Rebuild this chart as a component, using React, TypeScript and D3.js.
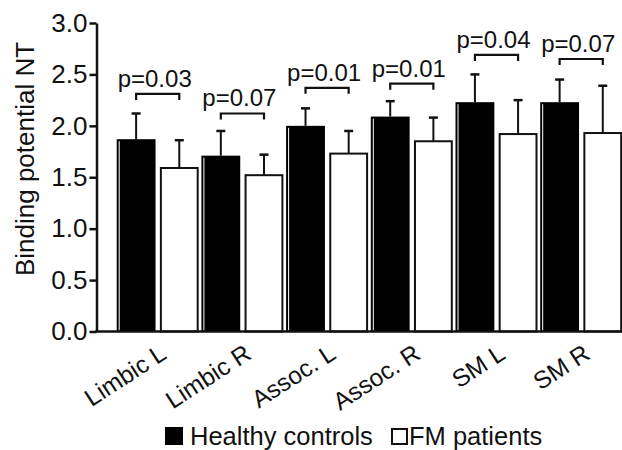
import { useEffect, useRef } from "react";
import * as d3 from "d3";

const regions = ["Limbic L", "Limbic R", "Assoc. L", "Assoc. R", "SM L", "SM R"];
const groups = ["hc", "fm"];
const hcMeans = [1.87, 1.71, 2.0, 2.09, 2.23, 2.23];
const hcSD = [0.25, 0.24, 0.17, 0.15, 0.27, 0.22];
const fmMeans = [1.59, 1.52, 1.73, 1.85, 1.92, 1.93];
const fmSD = [0.27, 0.2, 0.22, 0.23, 0.33, 0.46];
const pLabels = ["p=0.03", "p=0.07", "p=0.01", "p=0.01", "p=0.04", "p=0.07"];
const bracketLevels = [2.31, 2.12, 2.37, 2.41, 2.69, 2.65];
const yTicks = [0, 0.5, 1.0, 1.5, 2.0, 2.5, 3.0];
const legendLabels = ["Healthy controls", "FM patients"];

const font = "'Liberation Sans', Arial, Helvetica, sans-serif";

const App = () => {
    const ref = useRef<SVGSVGElement>(null);

    useEffect(() => {
        const svg = d3.select(ref.current);
        svg.selectAll("*").remove();

        const axisLeftX = 96.5;
        const y = d3.scaleLinear().domain([0, 3]).range([331.5, 23]);
        const x0 = d3.scaleBand().domain(regions).range([114.7, 622.9]);
        const x1 = d3.scaleBand().domain(groups).range([2, x0.bandwidth() - 0.7]).paddingInner(0.1);
        const bw = x1.bandwidth();

        // y axis
        const yAxis = svg.append("g")
            .attr("transform", `translate(${axisLeftX},0)`)
            .call(d3.axisLeft(y).tickValues(yTicks).tickSize(7).tickSizeOuter(0).tickPadding(2).tickFormat(d3.format(".1f")));
        yAxis.select(".domain").attr("stroke", "#111").attr("stroke-width", 2.5);
        yAxis.selectAll(".tick line").attr("stroke", "#111").attr("stroke-width", 2.5);
        yAxis.selectAll(".tick text")
            .attr("font-family", font).attr("font-size", 26).attr("fill", "#111");

        svg.append("text")
            .attr("transform", "translate(34,159) rotate(-90)")
            .attr("text-anchor", "middle")
            .attr("font-family", font).attr("font-size", 26).attr("fill", "#111")
            .text("Binding potential NT");

        // bars
        regions.forEach((r, i) => {
            const bx = (x0(r) ?? 0) + (x1("hc") ?? 0);
            const wx = (x0(r) ?? 0) + (x1("fm") ?? 0);
            svg.append("rect")
                .attr("x", bx).attr("y", y(hcMeans[i]))
                .attr("width", bw).attr("height", y(0) - y(hcMeans[i]))
                .attr("fill", "#000");
            svg.append("line")
                .attr("x1", bx + 2.5).attr("x2", bx + 2.5)
                .attr("y1", y(hcMeans[i]) + 2).attr("y2", y(0) - 1)
                .attr("stroke", "#fff").attr("stroke-width", 1);
            svg.append("rect")
                .attr("x", wx + 1).attr("y", y(fmMeans[i]))
                .attr("width", bw - 2).attr("height", y(0) - y(fmMeans[i]))
                .attr("fill", "#fff").attr("stroke", "#111").attr("stroke-width", 2);

            // error bars (upper only)
            const bars = [
                { cx: bx + bw / 2, m: hcMeans[i], s: hcSD[i] },
                { cx: wx + bw / 2, m: fmMeans[i], s: fmSD[i] },
            ];
            bars.forEach(b => {
                svg.append("line")
                    .attr("x1", b.cx).attr("x2", b.cx)
                    .attr("y1", y(b.m)).attr("y2", y(b.m + b.s))
                    .attr("stroke", "#111").attr("stroke-width", 2);
                svg.append("line")
                    .attr("x1", b.cx - 4.5).attr("x2", b.cx + 4.5)
                    .attr("y1", y(b.m + b.s)).attr("y2", y(b.m + b.s))
                    .attr("stroke", "#111").attr("stroke-width", 2.5);
            });

            // significance bracket
            const yb = y(bracketLevels[i]);
            svg.append("path")
                .attr("d", `M${bars[0].cx},${yb + 6}V${yb}H${bars[1].cx}V${yb + 6}`)
                .attr("fill", "none").attr("stroke", "#111").attr("stroke-width", 2.2);
            svg.append("text")
                .attr("x", (bars[0].cx + bars[1].cx) / 2 - 3).attr("y", yb - 7)
                .attr("text-anchor", "middle")
                .attr("font-family", font).attr("font-size", 24).attr("fill", "#111")
                .text(pLabels[i]);
        });

        // x axis
        svg.append("line")
            .attr("x1", axisLeftX - 1.25).attr("x2", 622)
            .attr("y1", y(0)).attr("y2", y(0))
            .attr("stroke", "#111").attr("stroke-width", 2.5);
        const xAxis = svg.append("g")
            .attr("transform", `translate(0,${y(0)})`)
            .call(d3.axisBottom(x0).tickSize(0).tickSizeOuter(0));
        xAxis.select(".domain").remove();
        xAxis.selectAll(".tick text")
            .attr("x", 0).attr("y", 0).attr("dy", 0)
            .attr("text-anchor", "end")
            .attr("transform", "translate(11,26) rotate(-33)")
            .attr("font-family", font).attr("font-size", 24.5).attr("fill", "#111");

        // legend
        const legend = svg.append("g");
        legend.append("rect").attr("x", 165).attr("y", 427).attr("width", 18).attr("height", 18).attr("fill", "#000");
        legend.append("text").attr("x", 190).attr("y", 445)
            .attr("font-family", font).attr("font-size", 25.5).attr("fill", "#111")
            .text(legendLabels[0]);
        legend.append("rect").attr("x", 392).attr("y", 429).attr("width", 15).attr("height", 15)
            .attr("fill", "#fff").attr("stroke", "#111").attr("stroke-width", 2);
        legend.append("text").attr("x", 409).attr("y", 445)
            .attr("font-family", font).attr("font-size", 25.5).attr("fill", "#111")
            .text(legendLabels[1]);
    }, []);

    return <svg ref={ref} width={622} height={450} style={{ position: "absolute", left: 0, top: 0, background: "#fff" }} />;
};

export default App;
